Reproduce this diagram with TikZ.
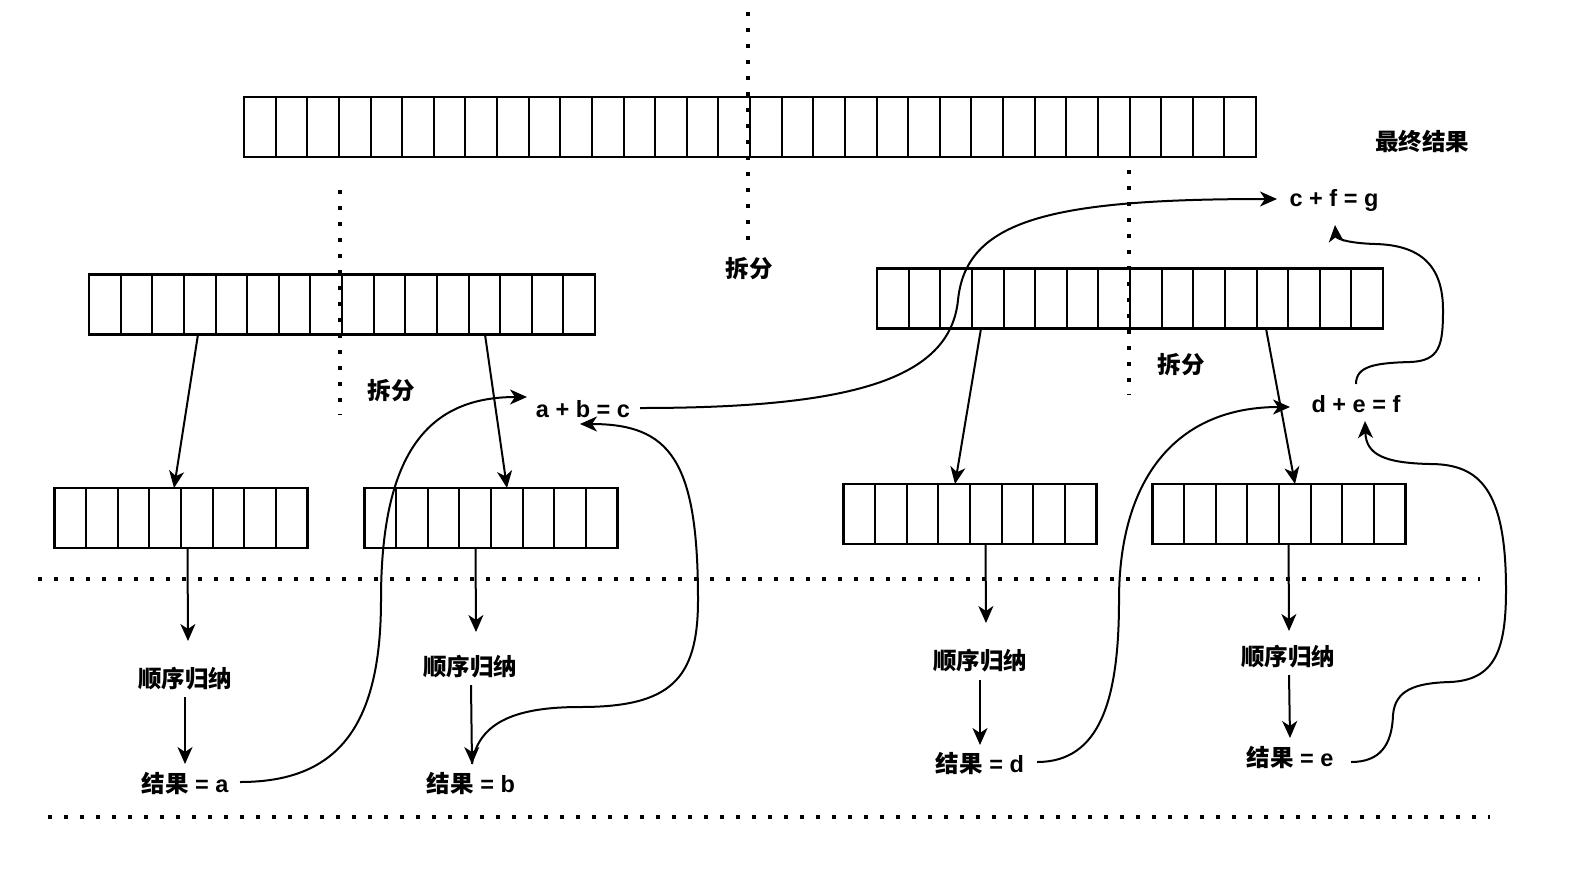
\documentclass[tikz,border=0pt]{standalone}
\usepackage{fontspec}
\setmainfont{Liberation Sans}
\newfontfamily\cjk{Noto Sans CJK SC}
\usepackage{tikz}
\usetikzlibrary{positioning,calc,arrows.meta}

\begin{document}
\begin{tikzpicture}[x=1pt, y=-1pt,
    blk/.style={draw, line width=2.2pt, minimum width=253pt, minimum height=60pt, inner sep=0pt, outer sep=0pt},
    cellline/.style={line width=2pt},
    lbl/.style={font=\fontsize{23.5}{28}\selectfont\bfseries, inner sep=2pt},
    arr/.style={line width=2pt, -{Stealth[length=17pt,width=15pt,inset=5pt]}},
    dotline/.style={line width=3.6pt, dash pattern=on 3.6pt off 12.4pt}]
    \useasboundingbox (0,0) rectangle (1570,868);

    % Top array
    \node [blk] (t1) at (370.5,127) {};
    \node [blk, right=0pt of t1] (t2) {};
    \node [blk, right=0pt of t2] (t3) {};
    \node [blk, right=0pt of t3] (t4) {};

    % Middle arrays
    \node [blk] (m1) at (215.5,304.5) {};
    \node [blk, right=0pt of m1] (m2) {};
    \node [blk] (n1) at (1003.5,298.5) {};
    \node [blk, right=0pt of n1] (n2) {};

    % Bottom arrays
    \node [blk] (sa) at (181,518) {};
    \node [blk] (sb) at (491,518) {};
    \node [blk] (sd) at (970,514) {};
    \node [blk] (se) at (1279,514) {};

    % cells
    \foreach \b in {t1,t2,t3,t4,m1,m2,n1,n2,sa,sb,sd,se} {
        \foreach \i in {1,...,7} {
            \draw [cellline] ($(\b.north west)!{\i/8}!(\b.north east)$) -- ($(\b.south west)!{\i/8}!(\b.south east)$);
        }
    }

    % Split lines
    \draw [dotline] (748,12) -- (748,240);
    \draw [dotline] (340,190) -- (340,415);
    \draw [dotline] (1129,170) -- (1129,395);
    \draw [dotline] (38,579) -- (1480,579);
    \draw [dotline] (48,817) -- (1490,817);

    % Labels
    \node [lbl] (cut0) at (749,269) {\cjk 拆分};
    \node [lbl] (cut1) at (391,391) {\cjk 拆分};
    \node [lbl] (cut2) at (1181,365) {\cjk 拆分};
    \node [lbl] (fin) at (1422,141) {\cjk 最终结果};
    \node [lbl] (sumg) at (1334,200) {c + f = g};
    \node [lbl] (sumc) at (583,409) {a + b = c};
    \node [lbl] (sumf) at (1356,404) {d + e = f};

    \node [lbl] (ia) at (185,679) {\cjk 顺序归纳};
    \node [lbl] (ib) at (470,667) {\cjk 顺序归纳};
    \node [lbl] (id) at (980,661) {\cjk 顺序归纳};
    \node [lbl] (ie) at (1288,657) {\cjk 顺序归纳};
    \node [lbl] (ra) at (185,783) {{\cjk 结果} = a};
    \node [lbl] (rb) at (471,783) {{\cjk 结果} = b};
    \node [lbl] (rd) at (980,763) {{\cjk 结果} = d};
    \node [lbl] (re) at (1290,757) {{\cjk 结果} = e};

    % Split arrows
    \draw [arr] ($(m1.south west)+(109,0)$) -- ($(sa.north west)+(119.5,0)$);
    \draw [arr] ($(m2.south west)+(143,0)$) -- ($(sb.north west)+(142.5,0)$);
    \draw [arr] ($(n1.south west)+(104,0)$) -- ($(sd.north west)+(111.5,0)$);
    \draw [arr] ($(n2.south west)+(136,0)$) -- ($(se.north west)+(142.5,0)$);

    % Sequential reduce
    \draw [arr] ($(sa.south west)+(133,0)$) -- ($(ia)+(3,-38)$);
    \draw [arr] ($(ia)+(0,18)$) -- ($(ra)+(0,-19)$);
    \draw [arr] ($(sb.south west)+(111,0)$) -- ($(ib)+(6,-35)$);
    \draw [arr] ($(ib)+(1,18)$) -- ($(rb)+(1,-19)$);
    \draw [arr] ($(sd.south west)+(142,0)$) -- ($(id)+(6,-38)$);
    \draw [arr] ($(id)+(0,19)$) -- ($(rd)+(0,-18)$);
    \draw [arr] ($(se.south west)+(136,0)$) -- ($(ie)+(1,-26)$);
    \draw [arr] ($(ie)+(1,18)$) -- ($(re)+(0,-19)$);

    % Merge
    \draw [arr] ($(ra)+(55,-1)$) .. controls (335,782) and (381,730) .. (381,600)
        .. controls (381,450) and (430,397) .. ($(sumc)+(-56,-12)$);
    \draw [arr] ($(rb)+(1,-19)$) .. controls (478,720) and (520,707) .. (580,707)
        .. controls (670,707) and (698,680) .. (698,600)
        .. controls (698,460) and (670,424) .. ($(sumc)+(-3,15)$);
    \draw [arr] ($(sumc)+(57,-1)$) .. controls (850,408) and (950,380) .. (958,300)
        .. controls (966,220) and (1050,199) .. ($(sumg)+(-57,-1)$);
    \draw [arr] ($(rd)+(57,-1)$) .. controls (1100,762) and (1119,700) .. (1119,600)
        .. controls (1119,480) and (1175,407) .. ($(sumf)+(-66,3)$);
    \draw [arr] ($(re)+(61,5)$) .. controls (1380,762) and (1392,745) .. (1393,715)
        .. controls (1395,690) and (1415,683) .. (1450,682)
        .. controls (1495,680) and (1506,650) .. (1506,590)
        .. controls (1506,490) and (1480,464) .. (1430,464)
        .. controls (1385,463) and (1366,455) .. ($(sumf)+(9,17)$);
    \draw [arr] ($(sumf)+(0,-20)$) .. controls (1356,366) and (1375,363) .. (1410,362)
        .. controls (1440,361) and (1443,345) .. (1443,310)
        .. controls (1443,265) and (1420,245) .. (1375,244)
        .. controls (1345,243) and (1336,238) .. ($(sumg)+(1,25)$);
\end{tikzpicture}
\end{document}
